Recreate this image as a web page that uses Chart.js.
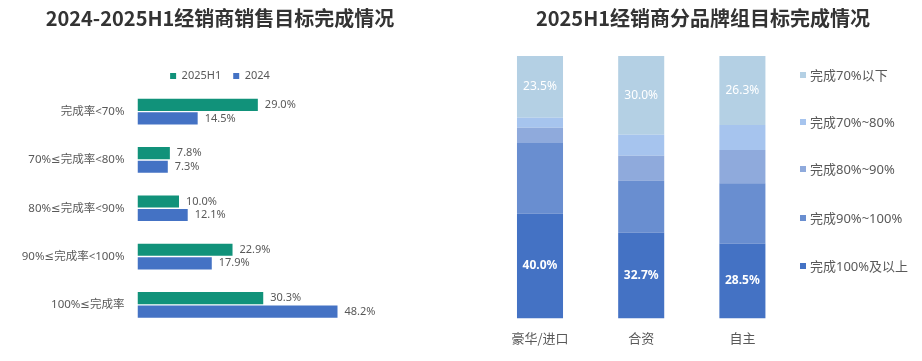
<!DOCTYPE html>
<html>
<head>
<meta charset="utf-8">
<script src="https://cdn.jsdelivr.net/npm/chart.js@4.4.1/dist/chart.umd.min.js"></script>
<style>
  html, body { margin: 0; padding: 0; background: #fff; }
  #wrap { position: relative; width: 922px; height: 361px; overflow: hidden; }
  #salesChart { position: absolute; left: 0; top: 0; }
  #brandChart { position: absolute; left: 484px; top: 0; }
  #brandLegend { position: absolute; left: 800px; top: 0; font-family: 'Noto Sans', 'Noto Sans CJK SC', sans-serif; font-size: 13px; color: #595959; }
  #brandLegend .item { position: absolute; left: 0; height: 16px; line-height: 16px; white-space: nowrap; }
  #brandLegend .box { display: inline-block; width: 6px; height: 6px; margin-right: 4px; vertical-align: 2px; }
</style>
</head>
<body>
<div id="wrap">
  <canvas id="salesChart" width="440" height="361"></canvas>
  <canvas id="brandChart" width="438" height="361"></canvas>
  <div id="brandLegend"></div>
</div>
<script>
// left chart: dealer sales target completion, 2024 vs 2025H1
const rateBands = ['完成率<70%', '70%≤完成率<80%', '80%≤完成率<90%', '90%≤完成率<100%', '100%≤完成率'];
const h1Share2025 = [29.0, 7.8, 10.0, 22.9, 30.3];
const fullShare2024 = [14.5, 7.3, 12.1, 17.9, 48.2];

// right chart: 2025H1 by brand group (stacked, bottom to top)
const brandGroups = ['豪华/进口', '合资', '自主'];
const tierNames = ['完成100%及以上', '完成90%~100%', '完成80%~90%', '完成70%~80%', '完成70%以下'];
const tier100 = [40.0, 32.7, 28.5];
const tier90 = [26.8, 19.9, 23.0];
const tier80 = [5.9, 9.4, 12.7];
const tier70 = [3.8, 8.0, 9.5];
const tierBelow70 = [23.5, 30.0, 26.3];

const GREEN = '#11927A';
const BLUE = '#4472C4';
const tierColors = ['#4472C4', '#698ED0', '#8FAADC', '#A6C4EE', '#B4D0E4'];
const FONT = "'Noto Sans', 'DejaVu Sans', 'Noto Sans CJK SC', sans-serif";
const CJK = "'Noto Sans CJK SC', 'Noto Sans', sans-serif";
const GREY = '#595959';

Chart.defaults.font.family = FONT;
Chart.defaults.color = GREY;
Chart.defaults.animation = false;

// draws the % value of each bar; mode 'end' = right of bar, 'mid' = centre of segment
function makeValueLabels(mode, styles) {
  return {
    id: 'valueLabels',
    afterDatasetsDraw(chart) {
      const ctx = chart.ctx;
      ctx.save();
      chart.data.datasets.forEach((ds, di) => {
        const st = styles[di];
        if (!st) return;
        const meta = chart.getDatasetMeta(di);
        meta.data.forEach((bar, i) => {
          const txt = ds.data[i].toFixed(1) + '%';
          ctx.font = st.font;
          ctx.fillStyle = st.color;
          ctx.textBaseline = 'middle';
          if (mode === 'end') {
            ctx.textAlign = 'left';
            ctx.fillText(txt, bar.x + 7, bar.y);
          } else {
            ctx.textAlign = 'center';
            ctx.fillText(txt, bar.x, (bar.y + bar.base) / 2);
          }
        });
      });
      ctx.restore();
    }
  };
}

const sideLabel = { font: '11px ' + FONT, color: GREY };

new Chart(document.getElementById('salesChart'), {
  type: 'bar',
  data: {
    labels: rateBands,
    datasets: [
      { label: '2025H1', data: h1Share2025, backgroundColor: GREEN },
      { label: '2024', data: fullShare2024, backgroundColor: BLUE }
    ]
  },
  options: {
    responsive: false,
    indexAxis: 'y',
    layout: { padding: { bottom: 32 } },
    datasets: { bar: { categoryPercentage: 0.56, barPercentage: 0.9 } },
    scales: {
      x: { display: false, min: 0, max: 72.9 },
      y: {
        grid: { display: false, drawTicks: false },
        border: { display: false },
        ticks: { padding: 13, font: { size: 11.5 }, color: GREY },
        afterFit(scale) { scale.width = 137.5; }
      }
    },
    plugins: {
      title: {
        display: true,
        text: '2024-2025H1经销商销售目标完成情况',
        color: '#333333',
        font: { family: CJK, size: 20, weight: 'bold' },
        padding: { top: 6, bottom: 28.5 }
      },
      legend: {
        position: 'top',
        maxHeight: 29,
        labels: { boxWidth: 6, boxHeight: 6, padding: 12, font: { size: 11 }, color: GREY }
      },
      tooltip: { enabled: false }
    }
  },
  plugins: [makeValueLabels('end', [sideLabel, sideLabel])]
});

const tierSeries = [tier100, tier90, tier80, tier70, tierBelow70];
const blankAxis = {
  grid: { display: false, drawTicks: false },
  border: { display: false },
  ticks: { display: false }
};

new Chart(document.getElementById('brandChart'), {
  type: 'bar',
  data: {
    labels: brandGroups,
    datasets: tierSeries.map((vals, k) => ({
      label: tierNames[k],
      data: vals,
      backgroundColor: tierColors[k]
    }))
  },
  options: {
    responsive: false,
    layout: { padding: { bottom: 3 } },
    datasets: { bar: { categoryPercentage: 1, barPercentage: 0.455 } },
    scales: {
      x: {
        stacked: true,
        grid: { display: false, drawTicks: false },
        border: { display: false },
        ticks: { padding: 12, font: { family: CJK, size: 13 }, color: GREY }
      },
      y: { ...blankAxis, stacked: true, min: 0, max: 100, afterFit(s) { s.width = 5.4; } },
      // empty right margin where the legend sits
      yR: { ...blankAxis, type: 'linear', position: 'right', afterFit(s) { s.width = 129; } }
    },
    plugins: {
      title: {
        display: true,
        text: '2025H1经销商分品牌组目标完成情况',
        color: '#333333',
        font: { family: CJK, size: 20, weight: 'bold' },
        padding: { top: 6, bottom: 26 }
      },
      legend: { display: false },
      tooltip: { enabled: false }
    }
  },
  plugins: [makeValueLabels('mid', {
    0: { font: 'bold 12px ' + FONT, color: '#ffffff' },
    4: { font: '12px ' + FONT, color: '#ffffff' }
  })]
});

// right legend, top item = top segment
const legendBox = document.getElementById('brandLegend');
const legendY = [75, 122, 169, 218, 266];
tierNames.slice().reverse().forEach((name, i) => {
  const col = tierColors[tierColors.length - 1 - i];
  const item = document.createElement('div');
  item.className = 'item';
  item.style.top = (legendY[i] - 8) + 'px';
  item.innerHTML = '<span class="box" style="background:' + col + '"></span>' + name;
  legendBox.appendChild(item);
});
</script>
</body>
</html>
